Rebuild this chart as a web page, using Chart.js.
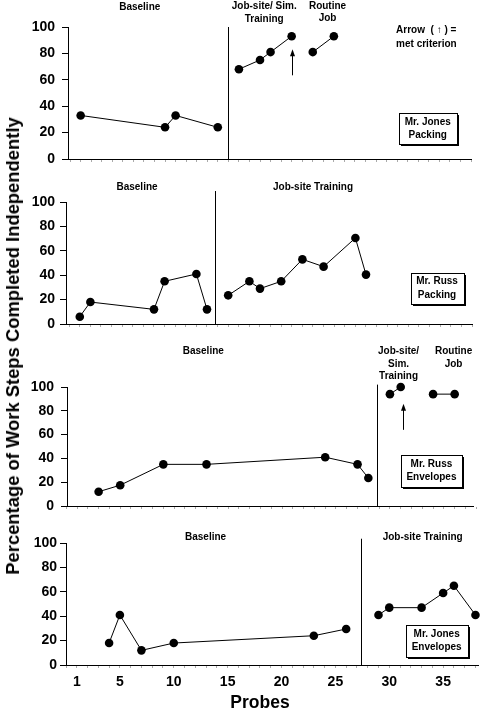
<!DOCTYPE html>
<html>
<head>
<meta charset="utf-8">
<script src="https://cdn.jsdelivr.net/npm/chart.js@4"></script>
<style>
  html, body { margin: 0; padding: 0; background: #fff; }
  #wrap { position: relative; width: 483px; height: 709px; overflow: hidden; }
  canvas { position: absolute; left: 0; }
  #yTitle {
    position: absolute; left: 12.5px; top: 346px;
    transform: translate(-50%, -50%) rotate(-90deg);
    white-space: nowrap; line-height: 1;
    font: bold 18.4px "Liberation Sans", Arial, sans-serif; color: #000;
  }
  #xTitle {
    position: absolute; left: 260px; top: 702px;
    transform: translate(-50%, -50%);
    white-space: nowrap; line-height: 1;
    font: bold 17.5px "Liberation Sans", Arial, sans-serif; color: #000;
  }
</style>
</head>
<body>
<div id="wrap">
  <canvas id="c1" width="483" height="180" style="top:0"></canvas>
  <canvas id="c2" width="483" height="172" style="top:172px"></canvas>
  <canvas id="c3" width="483" height="188" style="top:338px"></canvas>
  <canvas id="c4" width="483" height="193" style="top:516px"></canvas>
  <div id="yTitle">Percentage of Work Steps Completed Independently</div>
  <div id="xTitle">Probes</div>
</div>
<script>
// Mr. Jones - Packing
const jpBaseProbe = [1, 9, 10, 14];
const jpBasePct = [33, 24, 33, 24];
const jpTrainProbe = [16, 18, 19, 21];
const jpTrainPct = [68, 75, 81, 93];
const jpJobProbe = [23, 25];
const jpJobPct = [81, 93];

// Mr. Russ - Packing
const rpBaseProbe = [1, 2, 8, 9, 12, 13];
const rpBasePct = [6, 18, 12, 35, 41, 12];
const rpTrainProbe = [15, 17, 18, 20, 22, 24, 27, 28];
const rpTrainPct = [23.5, 35, 29, 35, 53, 47, 70.5, 40.5];

// Mr. Russ - Envelopes
const reBaseProbe = [3, 5, 9, 13, 24, 27, 28];
const reBasePct = [12, 17.5, 35, 35, 41, 35, 23.5];
const reTrainProbe = [30, 31];
const reTrainPct = [94, 100];
const reJobProbe = [34, 36];
const reJobPct = [94, 94];

// Mr. Jones - Envelopes
const jeBaseProbe = [4, 5, 7, 10, 23, 26];
const jeBasePct = [18, 41, 12, 18, 24, 29.5];
const jeTrainProbe = [29, 30, 33, 35, 36, 38];
const jeTrainPct = [41, 47, 47, 59, 65, 41];

// tick labels
const probeLabels = [1, 5, 10, 15, 20, 25, 30, 35];
const pctLabels = [0, 20, 40, 60, 80, 100];
const pctMinor = [10, 30, 50, 70, 90];

const pts = (probes, pcts) => probes.map((p, i) => ({ x: p, y: pcts[i] }));

// phase lines, phase names, arrows and the name box
const phaseMarks = {
  id: 'phaseMarks',
  afterDraw(chart, args, opts) {
    const { ctx, scales: { x, y } } = chart;
    const px = v => x.getPixelForValue(v);
    const py = v => y.getPixelForValue(v);
    ctx.save();
    ctx.strokeStyle = '#000';
    ctx.fillStyle = '#000';
    ctx.lineWidth = 1;
    (opts.lines || []).forEach(l => {
      const lx = Math.round(px(l.x)) + 0.5;
      ctx.beginPath();
      ctx.moveTo(lx, py(l.top));
      ctx.lineTo(lx, py(0));
      ctx.stroke();
    });
    ctx.font = 'bold 10px "Liberation Sans", Arial, sans-serif';
    ctx.textBaseline = 'middle';
    (opts.labels || []).forEach(t => {
      ctx.textAlign = t.align || 'center';
      t.text.forEach((s, i) => ctx.fillText(s, px(t.x), py(t.y) + i * (t.gap || 12.5)));
    });
    (opts.arrows || []).forEach(a => {
      const ax = Math.round(px(a.x)) + 0.5, y0 = py(a.from), y1 = py(a.to);
      ctx.beginPath();
      ctx.moveTo(ax, y0);
      ctx.lineTo(ax, y1 + 6);
      ctx.stroke();
      ctx.beginPath();
      ctx.moveTo(ax, y1);
      ctx.lineTo(ax - 2.5, y1 + 7);
      ctx.lineTo(ax + 2.5, y1 + 7);
      ctx.closePath();
      ctx.fill();
    });
    if (opts.box) {
      const b = opts.box, cx = px(b.x), cy = py(b.y);
      const l = Math.round(cx - b.w / 2) + 0.5, t = Math.round(cy - b.h / 2) + 0.5;
      ctx.fillRect(l + 1.5, t + 1.5, b.w, b.h);
      ctx.fillStyle = '#fff';
      ctx.fillRect(l, t, b.w, b.h);
      ctx.strokeRect(l, t, b.w, b.h);
      ctx.fillStyle = '#000';
      ctx.textAlign = 'center';
      b.text.forEach((s, i) => ctx.fillText(s, cx, cy + (i - (b.text.length - 1) / 2) * 13.5));
    }
    ctx.restore();
  }
};

function series(probes, pcts) {
  return {
    data: pts(probes, pcts),
    showLine: true,
    borderColor: '#000',
    borderWidth: 1,
    pointRadius: 4.3,
    pointBackgroundColor: '#000',
    pointBorderWidth: 0,
    clip: false
  };
}

function makePanel(id, p) {
  new Chart(document.getElementById(id), {
    type: 'scatter',
    data: { datasets: p.datasets },
    options: {
      responsive: false,
      animation: false,
      layout: { padding: { top: p.top, right: p.right, left: 0, bottom: 0 } },
      plugins: {
        legend: { display: false },
        tooltip: { enabled: false },
        phaseMarks: p.marks
      },
      scales: {
        x: {
          type: 'linear',
          min: p.xMin,
          max: p.xMax,
          afterFit: s => { s.height = p.xHeight; },
          afterBuildTicks: s => {
            s.ticks = Array.from({ length: 39 }, (_, i) => ({ value: i }));
          },
          border: { display: true, color: '#000', width: 1 },
          grid: { drawOnChartArea: false, drawTicks: true, tickLength: 3, tickColor: '#aaa' },
          ticks: {
            autoSkip: false,
            maxRotation: 0,
            padding: 6,
            color: '#000',
            font: { family: 'Liberation Sans', size: 14, weight: 'bold' },
            callback: v => (p.showX && probeLabels.includes(v)) ? String(v) : ''
          }
        },
        y: {
          min: 0,
          max: 100,
          afterFit: s => { s.width = p.left; },
          afterBuildTicks: s => {
            s.ticks = pctLabels.concat(pctMinor).sort((a, b) => a - b).map(v => ({ value: v }));
          },
          border: { display: true, color: '#000', width: 1 },
          grid: {
            drawOnChartArea: false,
            drawTicks: true,
            tickLength: 6,
            tickColor: c => pctLabels.includes(c.tick.value) ? '#000' : '#aaa'
          },
          ticks: {
            padding: p.yPad,
            color: '#000',
            font: { family: 'Liberation Sans', size: 14, weight: 'bold' },
            callback: v => pctLabels.includes(v) ? String(v) : ''
          }
        }
      }
    },
    plugins: [phaseMarks]
  });
}

makePanel('c1', {
  xMin: -0.2, xMax: 38, left: 68, right: 12, top: 27, xHeight: 21, yPad: 7, showX: false,
  datasets: [series(jpBaseProbe, jpBasePct), series(jpTrainProbe, jpTrainPct), series(jpJobProbe, jpJobPct)],
  marks: {
    lines: [{ x: 15, top: 100 }],
    labels: [
      { x: 6.6, y: 115, text: ['Baseline'] },
      { x: 18.4, y: 115.7, text: ['Job-site/ Sim.', 'Training'], gap: 12.5 },
      { x: 24.4, y: 116, text: ['Routine', 'Job'], gap: 12.5 },
      { x: 30.9, y: 97.5, text: ['Arrow  ( \u2191 ) =', 'met criterion'], align: 'left', gap: 13.5 }
    ],
    arrows: [{ x: 21, from: 63.4, to: 83.1 }],
    box: { x: 33.9, y: 22.9, w: 58, h: 31, text: ['Mr. Jones', 'Packing'] }
  }
});

makePanel('c2', {
  xMin: -0.3, xMax: 38, left: 66, right: 11, top: 30, xHeight: 20, yPad: 5, showX: false,
  datasets: [series(rpBaseProbe, rpBasePct), series(rpTrainProbe, rpTrainPct)],
  marks: {
    lines: [{ x: 13.8, top: 109 }],
    labels: [
      { x: 6.4, y: 112.5, text: ['Baseline'] },
      { x: 23.0, y: 112.5, text: ['Job-site Training'] }
    ],
    box: { x: 34.7, y: 29.3, w: 53, h: 31, text: ['Mr. Russ', 'Packing'] }
  }
});

makePanel('c3', {
  xMin: 0.07, xMax: 37.7, left: 67, right: 10, top: 49, xHeight: 20, yPad: 7, showX: false,
  datasets: [series(reBaseProbe, reBasePct), series(reTrainProbe, reTrainPct), series(reJobProbe, reJobPct)],
  marks: {
    lines: [{ x: 28.8, top: 102 }],
    labels: [
      { x: 12.7, y: 129.7, text: ['Baseline'] },
      { x: 30.8, y: 129.7, text: ['Job-site/', 'Sim.', 'Training'], gap: 12.5 },
      { x: 35.9, y: 129.7, text: ['Routine', 'Job'], gap: 12.5 }
    ],
    arrows: [{ x: 31.2, from: 64, to: 86 }],
    box: { x: 33.85, y: 29.5, w: 61, h: 32, text: ['Mr. Russ', 'Envelopes'] }
  }
});

makePanel('c4', {
  xMin: 0, xMax: 38.3, left: 66, right: 3, top: 27, xHeight: 44, yPad: 3, showX: true,
  datasets: [series(jeBaseProbe, jeBasePct), series(jeTrainProbe, jeTrainPct)],
  marks: {
    lines: [{ x: 27.35, top: 103.5 }],
    labels: [
      { x: 12.95, y: 105, text: ['Baseline'] },
      { x: 33.1, y: 105, text: ['Job-site Training'] }
    ],
    box: { x: 34.4, y: 19.9, w: 62, h: 32, text: ['Mr. Jones', 'Envelopes'] }
  }
});
</script>
</body>
</html>
